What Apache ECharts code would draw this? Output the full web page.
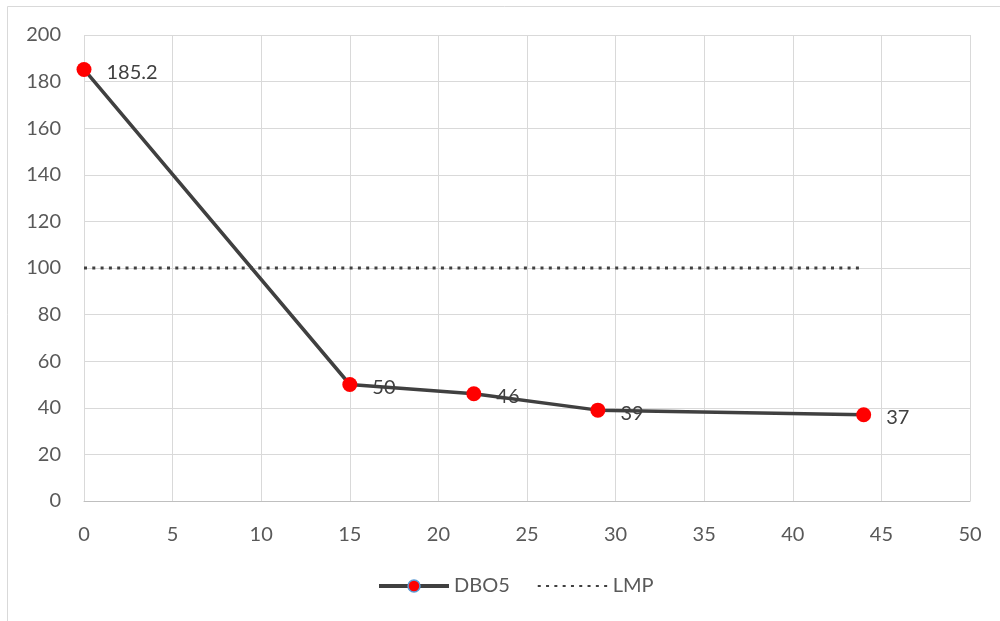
<!DOCTYPE html>
<html>
<head>
<meta charset="utf-8">
<script src="https://cdn.jsdelivr.net/npm/echarts@6/dist/echarts.min.js"></script>
<style>
  html, body { margin: 0; padding: 0; background: #fff; }
  #chart { width: 1000px; height: 621px; }
</style>
</head>
<body>
<div id="chart"></div>
<script>
// Days and DBO5 concentrations
const days = [0, 15, 22, 29, 44];
const dbo5 = [185.2, 50, 46, 39, 37];
// Limit (LMP) line
const lmpDays = [0, 44];
const lmpValues = [100, 100];
// Axis settings
const xMin = 0, xMax = 50, xStep = 5;
const yMin = 0, yMax = 200, yStep = 20;

const FONT = 'Lato, "Open Sans", sans-serif';
const FS = 20;

const chart = echarts.init(document.getElementById('chart'), null, { renderer: 'canvas' });

chart.setOption({
  backgroundColor: '#ffffff',
  animation: false,
  graphic: [{
    type: 'rect',
    shape: { x: 7.5, y: 6.5, width: 1100, height: 700 },
    style: { fill: 'none', stroke: '#d9d9d9', lineWidth: 1 },
    silent: true,
    z: -10
  }],
  grid: { left: 84, right: 30, top: 35, bottom: 120, containLabel: false },
  xAxis: {
    type: 'value',
    min: xMin, max: xMax, interval: xStep,
    axisLine: { show: true, lineStyle: { color: '#bfbfbf', width: 1 } },
    axisTick: { show: false },
    splitLine: { show: true, lineStyle: { color: '#d9d9d9', width: 1 } },
    axisLabel: { color: '#595959', fontSize: FS, fontFamily: FONT, margin: 24 }
  },
  yAxis: {
    type: 'value',
    min: yMin, max: yMax, interval: yStep,
    axisLine: { show: false },
    axisTick: { show: false },
    splitLine: { show: true, lineStyle: { color: '#d9d9d9', width: 1 } },
    axisLabel: { color: '#595959', fontSize: FS, fontFamily: FONT, margin: 23 }
  },
  legend: {
    top: 576,
    left: 377,
    padding: 0,
    itemWidth: 70,
    itemHeight: 15,
    itemGap: 27,
    textStyle: { color: '#595959', fontSize: FS, fontFamily: FONT },
    data: [
      {
        name: 'DBO5',
        lineStyle: { width: 4 },
        itemStyle: { color: '#ff0000', borderColor: '#5b9bd5', borderWidth: 1.5 }
      },
      {
        name: 'LMP',
        itemStyle: { color: 'rgba(0,0,0,0)', borderWidth: 0, opacity: 0 }
      }
    ]
  },
  series: [
    {
      name: 'DBO5',
      type: 'line',
      data: days.map((d, i) => [d, dbo5[i]]),
      symbol: 'circle',
      symbolSize: 15,
      lineStyle: { color: '#404040', width: 3.5 },
      itemStyle: { color: '#ff0000', borderWidth: 0 },
      label: {
        show: true,
        position: 'right',
        distance: 15,
        offset: [0, 3],
        color: '#404040',
        fontSize: FS,
        fontFamily: FONT,
        formatter: p => String(p.value[1])
      },
      z: 3
    },
    {
      name: 'LMP',
      type: 'line',
      data: lmpDays.map((d, i) => [d, lmpValues[i]]),
      symbol: 'none',
      lineStyle: { color: '#404040', width: 3, type: [3, 5.3] },
      itemStyle: { color: '#404040' },
      z: 2
    }
  ]
});
</script>
</body>
</html>
